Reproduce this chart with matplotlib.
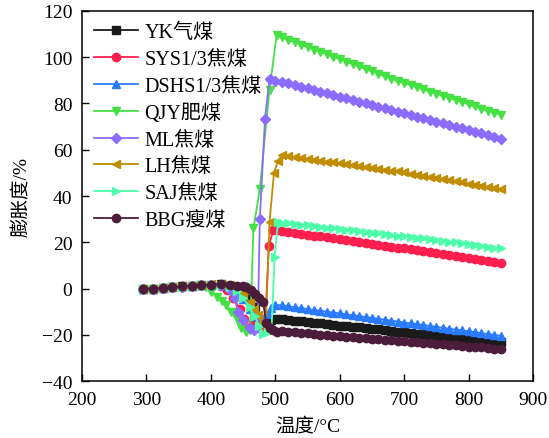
import matplotlib
matplotlib.use("Agg")
import matplotlib.pyplot as plt

plt.rcParams['font.family'] = ['Liberation Serif', 'Noto Sans CJK SC']
plt.rcParams['axes.unicode_minus'] = True

labels = ['YK气煤', 'SYS1/3焦煤', 'DSHS1/3焦煤', 'QJY肥煤', 'ML焦煤', 'LH焦煤', 'SAJ焦煤', 'BBG瘦煤']
colors = ['#1a1a1a', '#ff1f4f', '#2a7bff', '#44e044', '#8c6cff', '#c08c00', '#4dffaa', '#4b1d3a']
markers = ['s', 'o', '^', 'v', 'D', '<', '>', 'o']

# tail temperatures shared by all series (510..850 °C)
T_tail = [510, 520, 530, 540, 550, 560, 570, 580, 590, 600, 610, 620, 630, 640, 650, 660, 670, 680,
          690, 700, 710, 720, 730, 740, 750, 760, 770, 780, 790, 800, 810, 820, 830, 840, 850]

# YK
yk_T = [295, 310, 325, 340, 355, 370, 385, 400, 415, 430, 440, 450, 460, 468, 475, 481, 487, 494, 500]
yk_v = [0, 0, 0.2, 0.5, 0.9, 1.2, 1.5, 1.7, 1.8, 1.2, 0.3, -1.5, -4.5, -8, -13, -16.5, -15.5, -13.8, -13.2]
yk_tail = [-13.3, -13.6, -13.9, -14.2, -14.5, -14.8, -15.1, -15.4, -15.7, -16.0, -16.2, -16.5, -16.8, -17.1,
           -17.4, -17.7, -18.0, -18.3, -18.6, -18.9, -19.2, -19.5, -19.8, -20.1, -20.4, -20.7, -21.0, -21.3,
           -21.6, -21.9, -22.1, -22.4, -22.7, -23.0, -23.3]

# SYS
sys_T = [295, 310, 325, 340, 355, 370, 385, 400, 415, 425, 435, 445, 452, 458, 465, 472, 478, 484, 490, 497, 503]
sys_v = [0, 0, 0.2, 0.5, 0.8, 1.1, 1.4, 1.6, 1.3, -0.5, -4, -9, -13, -17, -15, -16.5, -17.5, -16, 18.5, 25.5, 25.2]
sys_tail = [24.9, 24.5, 24.1, 23.7, 23.3, 22.9, 22.5, 22.1, 21.7, 21.3, 20.9, 20.5, 20.1, 19.7, 19.3, 18.9,
            18.5, 18.1, 17.7, 17.3, 16.9, 16.5, 16.1, 15.7, 15.3, 14.9, 14.5, 14.1, 13.7, 13.3, 12.8, 12.4,
            12.0, 11.6, 11.2]

# DSHS
dshs_T = [295, 310, 325, 340, 355, 370, 385, 400, 415, 430, 440, 450, 460, 467, 474, 481, 488, 494, 500]
dshs_v = [0, 0, 0.3, 0.6, 1, 1.3, 1.6, 1.8, 1.7, 0.8, -1.5, -4.5, -9, -12, -13, -13, -11, -8.5, -7]
dshs_tail = [-7.3, -7.7, -8.1, -8.5, -8.9, -9.3, -9.7, -10.0, -10.4, -10.8, -11.2, -11.6, -12.0, -12.4, -12.7,
             -13.1, -13.5, -13.9, -14.3, -14.7, -15.1, -15.4, -15.8, -16.2, -16.6, -17.0, -17.4, -17.8, -18.1,
             -18.5, -18.9, -19.3, -19.7, -20.1, -20.5]

# QJY
qjy_T = [295, 310, 325, 340, 355, 370, 385, 393, 400, 409, 417, 424, 432, 440, 447, 454, 461, 466, 476, 491, 502]
qjy_v = [0, 0, 0.2, 0.5, 0.8, 1.1, 1.2, 0.5, -1.5, -3.6, -5.5, -7.2, -10, -13, -17, -19, -18, 26, 43, 86, 109.5]
qjy_tail = [108.6, 107.5, 106.5, 105.4, 104.4, 103.3, 102.3, 101.2, 100.2, 99.1, 98.1, 97.0, 96.0, 94.9, 93.9,
            92.9, 91.8, 90.8, 89.7, 88.8, 87.9, 87.0, 86.1, 85.1, 84.2, 83.3, 82.4, 81.5, 80.6, 79.6, 78.7,
            77.8, 76.9, 76.0, 75.1]

# ML
ml_T = [295, 310, 325, 340, 355, 370, 385, 400, 415, 429, 437, 442, 450, 460, 467, 473, 476, 484, 491, 500]
ml_v = [0, 0, 0.2, 0.5, 0.8, 1.2, 1.5, 1.7, 1.5, -0.7, -4.3, -10, -13.5, -17, -18, -12, 30, 73.5, 90.8, 89.9]
ml_tail = [89.4, 88.7, 88.0, 87.2, 86.5, 85.8, 85.1, 84.4, 83.6, 82.9, 82.2, 81.5, 80.8, 80.0, 79.3, 78.6,
           77.9, 77.2, 76.5, 75.8, 75.0, 74.3, 73.6, 72.9, 72.1, 71.4, 70.7, 70.0, 69.2, 68.5, 67.8, 67.1,
           66.3, 65.6, 64.8]

# LH
lh_T = [295, 310, 325, 340, 355, 370, 385, 400, 415, 430, 440, 450, 460, 467, 473, 479, 485, 491, 498, 504]
lh_v = [0, 0, 0.2, 0.5, 0.9, 1.3, 1.6, 1.9, 2, 1.6, 0.5, -2, -6, -9, -11.5, -15, -18, 28.8, 50, 55]
lh_tail = [57.6, 57.2, 56.8, 56.4, 56.0, 55.6, 55.3, 54.9, 54.5, 54.1, 53.7, 53.3, 52.9, 52.5, 52.1, 51.8,
           51.4, 51.0, 50.6, 50.2, 49.7, 49.2, 48.7, 48.2, 47.8, 47.3, 46.8, 46.3, 45.9, 45.4, 44.9, 44.4,
           43.9, 43.5, 43.0]

# SAJ
saj_T = [295, 310, 325, 340, 355, 370, 385, 400, 415, 430, 440, 450, 460, 468, 475, 481, 488, 494, 499, 504]
saj_v = [0, 0, 0.2, 0.5, 0.8, 1.2, 1.5, 1.7, 1.6, 0.8, -1, -4, -8, -12, -16, -19.5, -19, -18, 13.7, 28.8]
saj_tail = [28.5, 28.2, 27.9, 27.6, 27.3, 26.9, 26.6, 26.3, 26.0, 25.7, 25.4, 25.1, 24.8, 24.5, 24.2, 23.9,
            23.5, 23.2, 22.9, 22.6, 22.3, 22.0, 21.7, 21.4, 21.1, 20.7, 20.3, 20.0, 19.6, 19.2, 18.8, 18.4,
            18.1, 17.7, 17.3]

# BBG
bbg_T = [295, 310, 325, 340, 355, 370, 385, 400, 415, 430, 440, 450, 455, 462, 468, 475, 481, 486, 491, 496, 502]
bbg_v = [0, 0, 0.2, 0.5, 0.9, 1.3, 1.5, 1.7, 1.8, 1.5, 1.2, 0.9, 0.7, -0.5, -2.2, -4, -5.8, -15, -17, -18, -18.7]
bbg_tail = [-18.3, -18.6, -18.8, -19.1, -19.4, -19.7, -19.9, -20.2, -20.4, -20.6, -20.8, -21.0, -21.3, -21.5,
            -21.7, -21.9, -22.2, -22.4, -22.6, -22.8, -23.0, -23.3, -23.5, -23.7, -23.9, -24.2, -24.4, -24.6,
            -24.8, -25.1, -25.3, -25.5, -25.7, -26.0, -26.2]

heads = [(yk_T, yk_v, yk_tail), (sys_T, sys_v, sys_tail), (dshs_T, dshs_v, dshs_tail),
         (qjy_T, qjy_v, qjy_tail), (ml_T, ml_v, ml_tail), (lh_T, lh_v, lh_tail),
         (saj_T, saj_v, saj_tail), (bbg_T, bbg_v, bbg_tail)]

fig = plt.figure(figsize=(5.49, 4.39), dpi=100)
ax = fig.add_axes([0.1494, 0.1298, 0.8215, 0.8429])

for (hT, hv, tv), lab, c, m in zip(heads, labels, colors, markers):
    x = list(hT) + T_tail
    y = list(hv) + tv
    ms = 5.0 if m == 'D' else 6.0
    ax.plot(x, y, color=c, marker=m, markersize=ms, linewidth=1.3, label=lab)

ax.set_xlim(200, 900)
ax.set_ylim(-40, 120)
ax.set_xticks([200, 300, 400, 500, 600, 700, 800, 900])
ax.set_yticks([-40, -20, 0, 20, 40, 60, 80, 100, 120])
ax.tick_params(direction='in', length=5, width=1, labelsize=14, pad=7)
for s in ax.spines.values():
    s.set_linewidth(1.1)
ax.set_xlabel('温度/°C', fontsize=14, labelpad=6)
ax.set_ylabel('膨胀度/%', fontsize=14, labelpad=8)

leg = ax.legend(loc='upper left', frameon=False, fontsize=14.5, handlelength=2.2,
                handletextpad=0.3, labelspacing=0.38, borderaxespad=0.4, borderpad=0.2)

fig.savefig('out.png', dpi=100)
